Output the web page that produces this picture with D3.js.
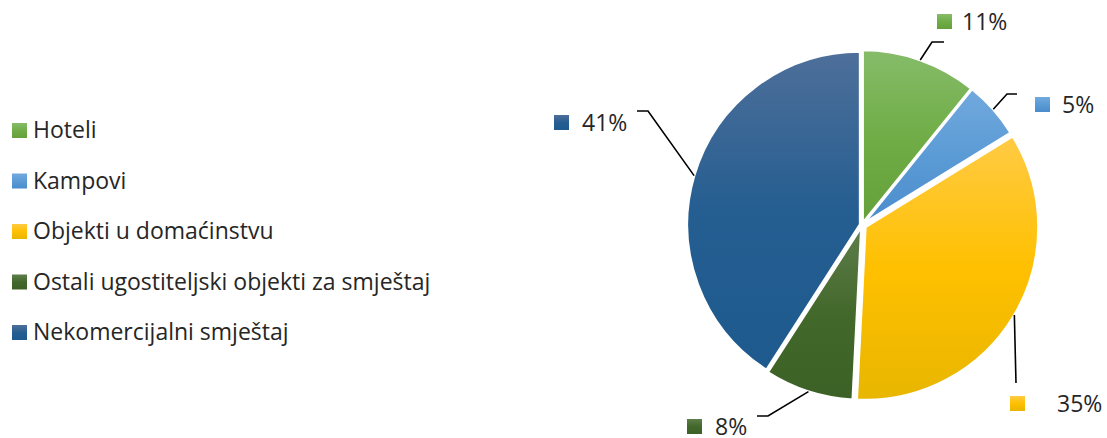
<!DOCTYPE html>
<html><head><meta charset="utf-8">
<script src="https://cdn.jsdelivr.net/npm/d3@7"></script>
<style>
html,body{margin:0;padding:0;background:#fff;}
text{font-family:"Open Sans",Lato,sans-serif;fill:#262626;}
</style></head>
<body><svg id="chart" width="1107" height="438"></svg>
<script>
const categories = ["Hoteli","Kampovi","Objekti u domaćinstvu","Ostali ugostiteljski objekti za smještaj","Nekomercijalni smještaj"];
const values = [10.8, 5.4, 34.6, 8.3, 40.9];
const labels = ["11%","5%","35%","8%","41%"];
const colorsTop = ["#86BC69","#72A9DE","#FFCB45","#5E7D4B","#4E6F9A"];
const colorsMid = ["#70AD47","#5B9BD5","#FFC000","#43682B","#255E91"];
const colorsBot = ["#65A03A","#4A8CCC","#E8B600","#3C6126","#1E5A8E"];

const svg = d3.select("#chart");
const cx = 862, cy = 225, R = 173;
const defs = svg.append("defs");
categories.forEach((c,i)=>{
  const g = defs.append("linearGradient").attr("id","g"+i).attr("x1",0).attr("y1",0).attr("x2",0).attr("y2",1);
  g.append("stop").attr("offset","0%").attr("stop-color",colorsTop[i]);
  g.append("stop").attr("offset","50%").attr("stop-color",colorsMid[i]);
  g.append("stop").attr("offset","100%").attr("stop-color",colorsBot[i]);
});

const pie = d3.pie().sort(null).value(d=>d)(values);
const arc = d3.arc().innerRadius(0).outerRadius(R);
const explode = [2,2,4,2,2];
const pg = svg.append("g").attr("transform",`translate(${cx},${cy})`);
pg.selectAll("path").data(pie).join("path")
  .attr("d",arc)
  .attr("transform",(d,i)=>{const a=(d.startAngle+d.endAngle)/2;return `translate(${explode[i]*Math.sin(a)},${-explode[i]*Math.cos(a)})`;})
  .attr("fill",(d,i)=>`url(#g${i})`)
  .attr("stroke","#fff").attr("stroke-width",2.5).attr("stroke-linejoin","round");

const FS = 23;
const lab = [
  {e:[932,42], f:[944,42], sq:937, tx:962, by:30},
  {e:[1007,94], f:[1017,94], sq:1035, tx:1062, by:113},
  {e:[1016,383], f:[1016,383], sq:1010, tx:1057, by:412},
  {e:[768,416], f:[757,416], sq:687, tx:715, by:435},
  {e:[648,111], f:[637,111], sq:554, tx:582, by:131}
];
const lg = svg.append("g");
pie.forEach((d,i)=>{
  const a=(d.startAngle+d.endAngle)/2;
  const p=[cx+(R+explode[i])*Math.sin(a), cy-(R+explode[i])*Math.cos(a)];
  const L=lab[i];
  lg.append("polyline").attr("points",[p,L.e,L.f].map(q=>q.join(",")).join(" "))
    .attr("fill","none").attr("stroke","#000").attr("stroke-width",1.6);
  lg.append("rect").attr("x",L.sq).attr("y",L.by-16).attr("width",15).attr("height",15).attr("fill",`url(#g${i})`);
  lg.append("text").attr("x",L.tx).attr("y",L.by).attr("font-size",FS).text(labels[i]);
});

const leg = svg.append("g");
categories.forEach((c,i)=>{
  const y = 138 + i*50.5;
  leg.append("rect").attr("x",12).attr("y",y-15).attr("width",15).attr("height",15).attr("fill",`url(#g${i})`);
  leg.append("text").attr("x",33).attr("y",y).attr("font-size",FS).text(c);
});
</script></body></html>
